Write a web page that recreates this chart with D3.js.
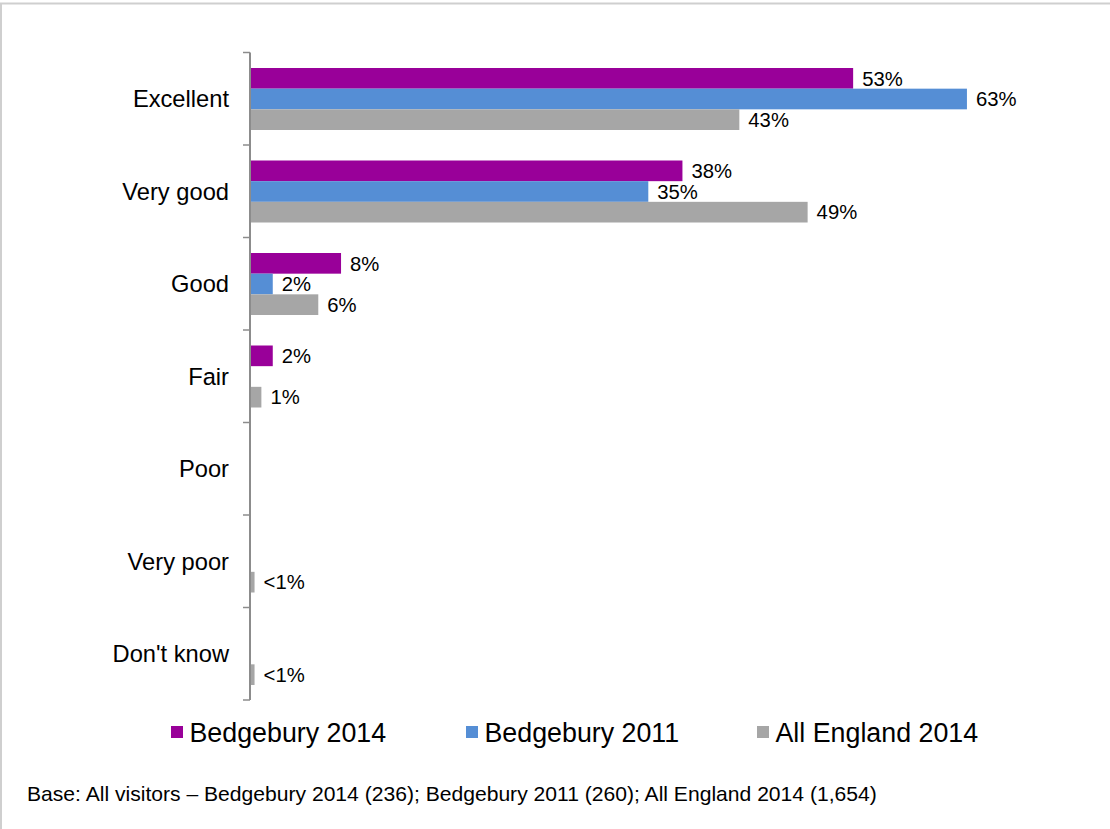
<!DOCTYPE html>
<html>
<head>
<meta charset="utf-8">
<script src="https://cdn.jsdelivr.net/npm/d3@7"></script>
<style>
  html, body { margin: 0; padding: 0; background: #fff; }
  svg { display: block; font-family: "Liberation Sans", Arial, sans-serif; }
</style>
</head>
<body>
<svg id="chart" width="1110" height="829"></svg>
<script>
// Visitor ratings of the overall visit
const categories = ["Excellent", "Very good", "Good", "Fair", "Poor", "Very poor", "Don't know"];
const seriesNames = ["Bedgebury 2014", "Bedgebury 2011", "All England 2014"];
const seriesColors = ["#990099", "#558ED5", "#A6A6A6"];

// Percentages per category (null = no response shown; 0.4 stands for "<1%")
const bedgebury2014 = [53, 38, 8, 2, null, null, null];
const bedgebury2011 = [63, 35, 2, null, null, null, null];
const allEngland2014 = [43, 49, 6, 1, null, 0.4, 0.4];

const footnote = "Base: All visitors \u2013 Bedgebury 2014 (236); Bedgebury 2011 (260); All England 2014 (1,654)";

const seriesValues = [bedgebury2014, bedgebury2011, allEngland2014];

const svg = d3.select("#chart");

// Outer frame (top and left edges)
svg.append("line").attr("x1", 0).attr("x2", 1110).attr("y1", 3.5).attr("y2", 3.5)
  .attr("stroke", "#cfcfcf").attr("stroke-width", 2);
svg.append("line").attr("x1", 1).attr("x2", 1).attr("y1", 3).attr("y2", 829)
  .attr("stroke", "#cfcfcf").attr("stroke-width", 2);

const x0 = 250;
const x = d3.scaleLinear().domain([0, 100]).range([x0, x0 + 1138]);
const y = d3.scaleBand().domain(categories).range([52.5, 700]).padding(0);
const ySub = d3.scaleBand().domain(seriesNames).range([15.5, 77.5]).padding(0);

// Bars
seriesNames.forEach((name, si) => {
  const rows = categories.map((c, i) => ({ cat: c, v: seriesValues[si][i] }))
    .filter(d => d.v !== null);
  const g = svg.append("g");
  g.selectAll("rect").data(rows).enter().append("rect")
    .attr("x", x(0))
    .attr("y", d => y(d.cat) + ySub(name))
    .attr("width", d => x(d.v) - x(0))
    .attr("height", ySub.bandwidth())
    .attr("fill", seriesColors[si]);
  g.selectAll("text").data(rows).enter().append("text")
    .attr("x", d => x(d.v) + 9)
    .attr("y", d => y(d.cat) + ySub(name) + ySub.bandwidth() / 2)
    .attr("dy", "0.36em")
    .attr("font-size", 20.3)
    .attr("fill", "#000")
    .text(d => d.v < 1 ? "<1%" : d.v + "%");
});

// Category axis
const axis = svg.append("g");
axis.append("line").attr("x1", x0).attr("x2", x0).attr("y1", 52.5).attr("y2", 700)
  .attr("stroke", "#8c8c8c").attr("stroke-width", 2);
const boundaries = categories.map(c => y(c)).concat([y.range()[1]]);
axis.selectAll("line.tick").data(boundaries).enter().append("line")
  .attr("class", "tick")
  .attr("x1", x0 - 7).attr("x2", x0).attr("y1", d => d).attr("y2", d => d)
  .attr("stroke", "#8c8c8c").attr("stroke-width", 1.5);
axis.selectAll("text").data(categories).enter().append("text")
  .attr("x", 229)
  .attr("y", d => y(d) + y.bandwidth() / 2)
  .attr("dy", "0.36em")
  .attr("text-anchor", "end")
  .attr("font-size", 23.7)
  .attr("fill", "#000")
  .text(d => d);

// Legend
const legendX = [171, 466, 757];
const legend = svg.append("g");
seriesNames.forEach((name, i) => {
  legend.append("rect").attr("x", legendX[i]).attr("y", 726)
    .attr("width", 12).attr("height", 12).attr("fill", seriesColors[i]);
  legend.append("text").attr("x", legendX[i] + 18.5).attr("y", 732)
    .attr("dy", "0.36em").attr("font-size", 26.8).attr("fill", "#000").text(name);
});

// Footnote
svg.append("text").attr("x", 27).attr("y", 793).attr("dy", "0.36em")
  .attr("font-size", 21.1).attr("fill", "#000").text(footnote);
</script>
</body>
</html>
